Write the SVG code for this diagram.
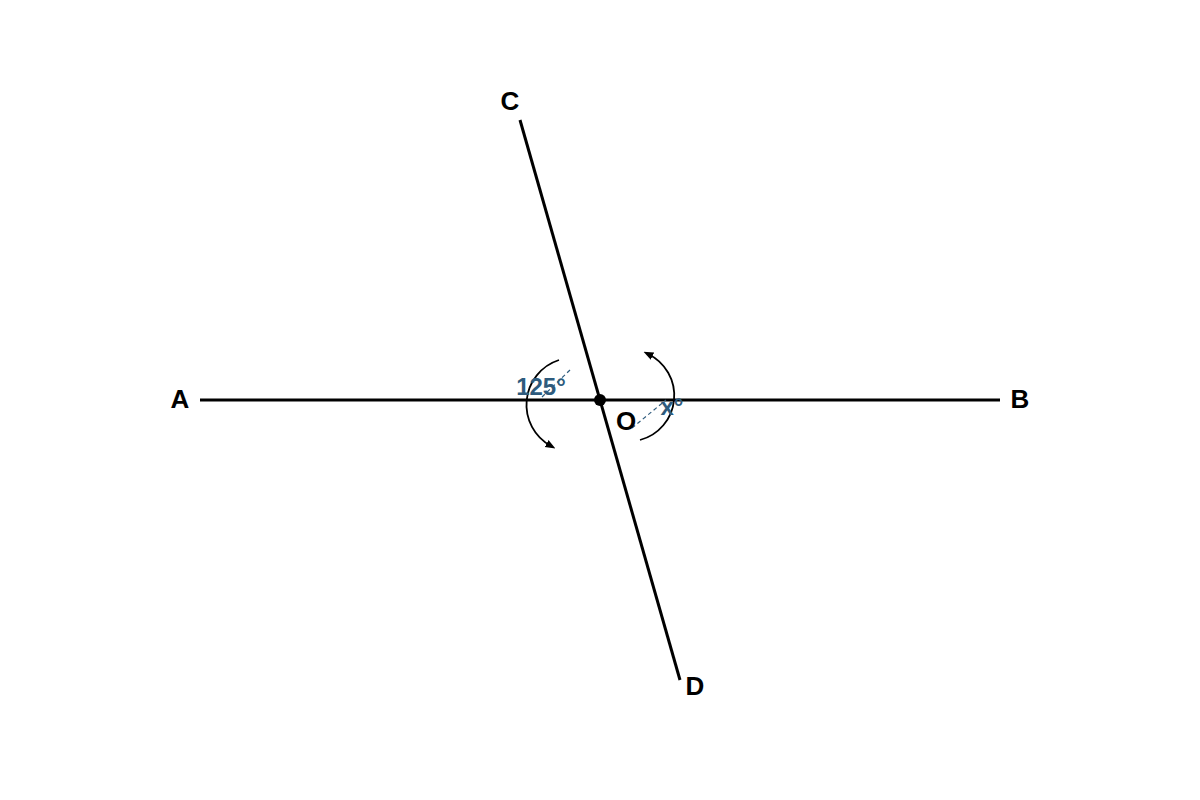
<svg xmlns="http://www.w3.org/2000/svg" width="1200" height="800" viewBox="0 0 1200 800">
<style>
.line{stroke:#000;stroke-width:3;fill:none}
.arc{stroke:#000;stroke-width:1.8;fill:none}
.dash{stroke:#2e5b7d;stroke-width:1.2;stroke-dasharray:4 3;fill:none}
.lbl{font-family:"Liberation Sans",Arial,sans-serif;font-weight:bold;font-size:26px;fill:#000;text-anchor:middle}
.ang{font-family:"Liberation Sans",Arial,sans-serif;font-weight:bold;font-size:24px;fill:#2e5b7d;text-anchor:middle}
</style>
<defs>
<marker id="ah" viewBox="0 0 10 10" refX="5" refY="5" markerWidth="10" markerHeight="10" markerUnits="userSpaceOnUse" orient="auto">
<path d="M0,1 L10,5 L0,9 Z" fill="#000"/>
</marker>
</defs>
<rect width="1200" height="800" fill="#fff"/>
<g id="connectors">
<line class="line" x1="200" y1="400" x2="1000" y2="400"/>
<line class="line" x1="520" y1="120" x2="680" y2="680"/>
<path class="arc" d="M559,360 A47,47 0 0 0 551,446" marker-end="url(#ah)"/>
<path class="arc" d="M640,440 A46,46 0 0 0 648,354" marker-end="url(#ah)"/>
<line class="dash" x1="570" y1="370" x2="542" y2="397"/>
<line class="dash" x1="632" y1="428" x2="666" y2="400"/>
</g>
<g id="node-O">
<circle cx="600" cy="400" r="6" fill="#000"/>
<text class="lbl" x="626" y="430">O</text>
</g>
<g id="node-A"><text class="lbl" x="180" y="408">A</text></g>
<g id="node-B"><text class="lbl" x="1020" y="408">B</text></g>
<g id="node-C"><text class="lbl" x="510" y="110">C</text></g>
<g id="node-D"><text class="lbl" x="695" y="695">D</text></g>
<g id="angle-125"><text class="ang" x="541" y="395">125°</text></g>
<g id="angle-x"><text class="ang" x="672" y="415">x°</text></g>
</svg>
